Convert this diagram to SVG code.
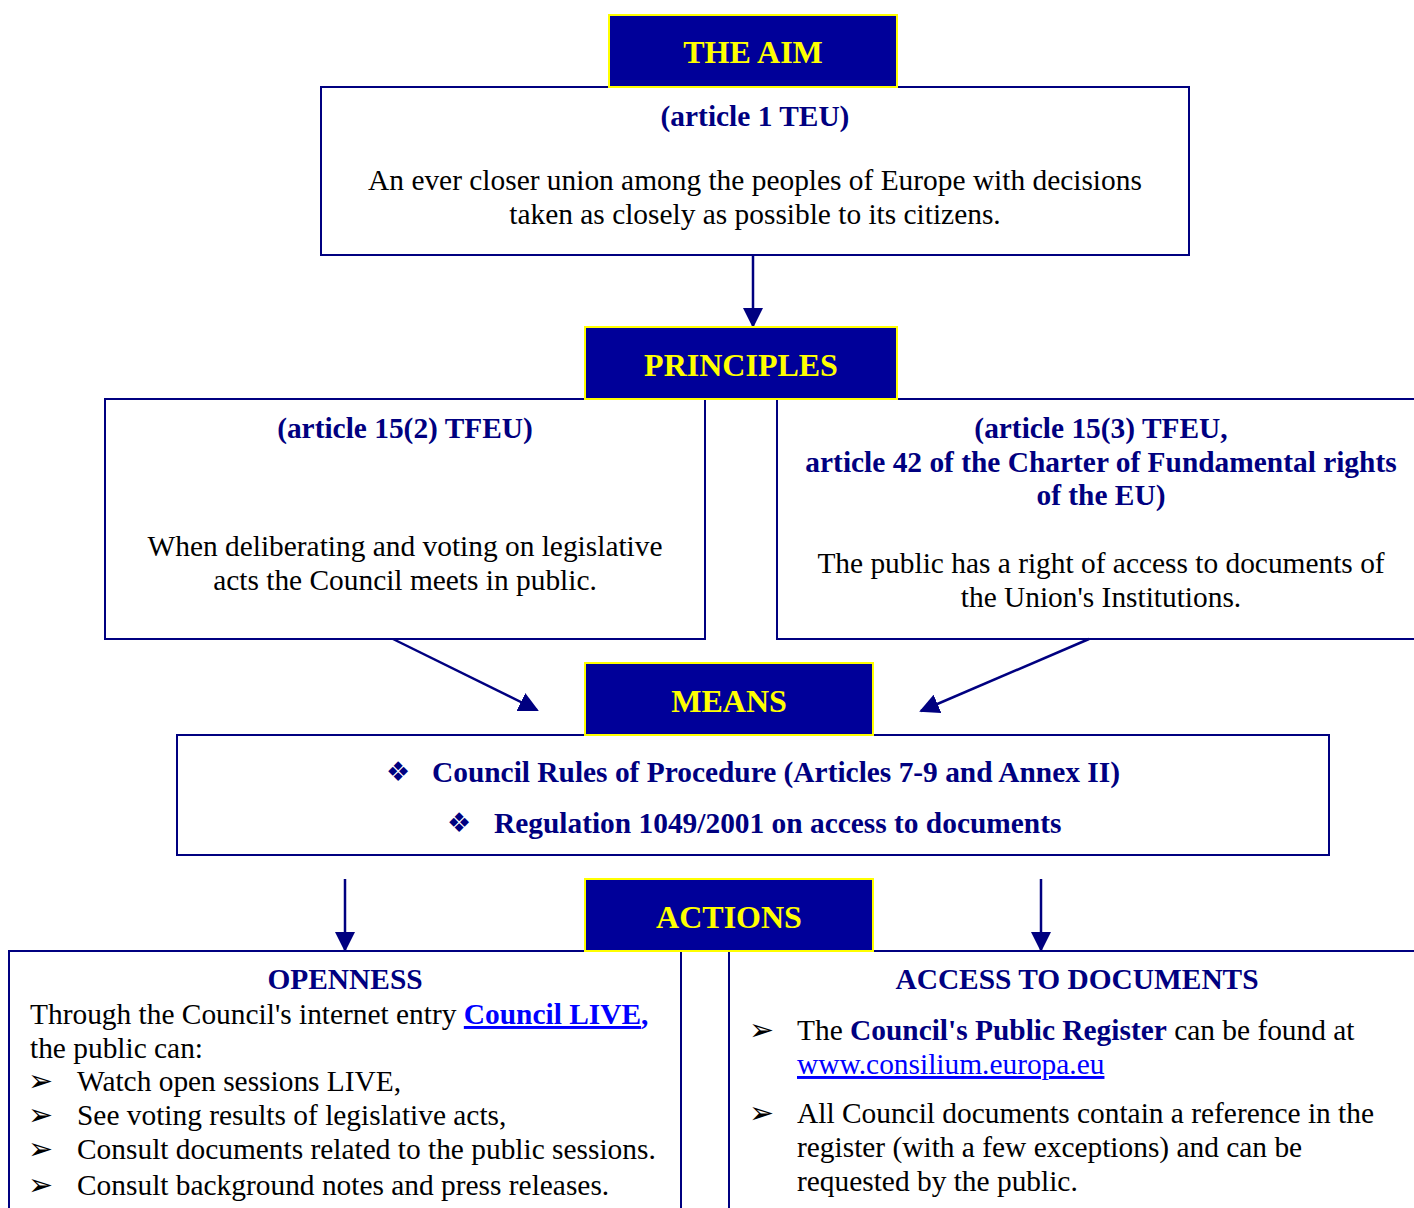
<svg xmlns="http://www.w3.org/2000/svg" width="1414" height="1208" viewBox="0 0 1414 1208">
<style>
.box{fill:#fff;stroke:#000080;stroke-width:2}
.hdr{fill:#000099;stroke:#ffff00;stroke-width:2}
.ht{font-family:"Liberation Serif",serif;font-weight:bold;font-size:32px;fill:#ffff00;text-anchor:middle}
.sub{font-family:"Liberation Serif",serif;font-weight:bold;font-size:29.4px;fill:#000080;text-anchor:middle}
.body{font-family:"Liberation Serif",serif;font-size:29.4px;fill:#000}
.mid{text-anchor:middle}
.nb{font-weight:bold;fill:#000080}
.link{fill:#0000ff;text-decoration:underline}
.sym{font-family:"DejaVu Sans",sans-serif;font-size:30px;fill:#000}
.dia{font-family:"DejaVu Sans",sans-serif;font-size:27px;fill:#000080}
.con{stroke:#000080;stroke-width:2.5;fill:none;marker-end:url(#ah)}
</style>
<defs>
<marker id="ah" viewBox="0 0 10 10" refX="9" refY="5" markerWidth="8" markerHeight="8" markerUnits="strokeWidth" orient="auto">
<path d="M0,0 L10,5 L0,10 z" fill="#000080"/>
</marker>
</defs>
<rect width="1414" height="1208" fill="#fff"/>

<g id="aim-box">
<rect class="box" x="321" y="87" width="868" height="168"/>
<text class="sub" x="755" y="126">(article 1 TEU)</text>
<text class="body mid" x="755" y="190">An ever closer union among the peoples of Europe with decisions</text>
<text class="body mid" x="755" y="224">taken as closely as possible to its citizens.</text>
</g>

<g id="principle-left">
<rect class="box" x="105" y="399" width="600" height="240"/>
<text class="sub" x="405" y="438">(article 15(2) TFEU)</text>
<text class="body mid" x="405" y="556">When deliberating and voting on legislative</text>
<text class="body mid" x="405" y="590">acts the Council meets in public.</text>
</g>

<g id="principle-right">
<rect class="box" x="777" y="399" width="660" height="240"/>
<text class="sub" x="1101" y="438">(article 15(3) TFEU,</text>
<text class="sub" x="1101" y="472">article 42 of the Charter of Fundamental rights</text>
<text class="sub" x="1101" y="505">of the EU)</text>
<text class="body mid" x="1101" y="573">The public has a right of access to documents of</text>
<text class="body mid" x="1101" y="607">the Union's Institutions.</text>
</g>

<g id="means-box">
<rect class="box" x="177" y="735" width="1152" height="120"/>
<text class="dia" x="386" y="781">❖</text>
<text class="sub" x="432" y="782" style="text-anchor:start">Council Rules of Procedure (Articles 7-9 and Annex II)</text>
<text class="dia" x="447" y="832">❖</text>
<text class="sub" x="494" y="833" style="text-anchor:start">Regulation 1049/2001 on access to documents</text>
</g>

<g id="openness">
<rect class="box" x="9" y="951" width="672" height="280"/>
<text class="sub" x="345" y="989">OPENNESS</text>
<text class="body" x="30" y="1024">Through the Council's internet entry <tspan class="link" font-weight="bold">Council LIVE</tspan><tspan font-weight="bold" fill="#0000ff">,</tspan></text>
<text class="body" x="30" y="1058">the public can:</text>
<text class="sym" x="28" y="1091">➢</text>
<text class="body" x="77" y="1091">Watch open sessions LIVE,</text>
<text class="sym" x="28" y="1125">➢</text>
<text class="body" x="77" y="1125">See voting results of legislative acts,</text>
<text class="sym" x="28" y="1159">➢</text>
<text class="body" x="77" y="1159">Consult documents related to the public sessions.</text>
<text class="sym" x="28" y="1195">➢</text>
<text class="body" x="77" y="1195">Consult background notes and press releases.</text>
</g>

<g id="access">
<rect class="box" x="729" y="951" width="720" height="280"/>
<text class="sub" x="1077" y="989">ACCESS TO DOCUMENTS</text>
<text class="sym" x="749" y="1040">➢</text>
<text class="body" x="797" y="1040">The <tspan class="nb">Council's Public Register</tspan> can be found at</text>
<text class="body link" x="797" y="1074">www.consilium.europa.eu</text>
<text class="sym" x="749" y="1123">➢</text>
<text class="body" x="797" y="1123">All Council documents contain a reference in the</text>
<text class="body" x="797" y="1157">register (with a few exceptions) and can be</text>
<text class="body" x="797" y="1191">requested by the public.</text>
</g>

<g id="connectors">
<line class="con" x1="753" y1="255" x2="753" y2="326"/>
<line class="con" x1="393" y1="639" x2="537" y2="710"/>
<line class="con" x1="1089" y1="639" x2="921" y2="711"/>
<line class="con" x1="345" y1="879" x2="345" y2="950"/>
<line class="con" x1="1041" y1="879" x2="1041" y2="950"/>
</g>

<g id="hdr-aim">
<rect class="hdr" x="609" y="15" width="288" height="72"/>
<text class="ht" x="753" y="63">THE AIM</text>
</g>
<g id="hdr-principles">
<rect class="hdr" x="585" y="327" width="312" height="72"/>
<text class="ht" x="741" y="376">PRINCIPLES</text>
</g>
<g id="hdr-means">
<rect class="hdr" x="585" y="663" width="288" height="72"/>
<text class="ht" x="729" y="712">MEANS</text>
</g>
<g id="hdr-actions">
<rect class="hdr" x="585" y="879" width="288" height="72"/>
<text class="ht" x="729" y="928">ACTIONS</text>
</g>
</svg>
